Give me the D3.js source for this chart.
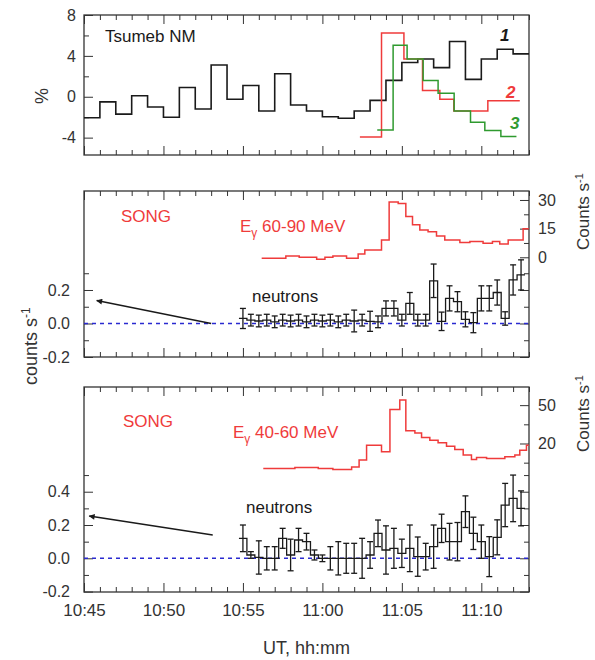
<!DOCTYPE html>
<html>
<head>
<meta charset="utf-8">
<script src="https://cdn.jsdelivr.net/npm/d3@7"></script>
<style>
  body { margin: 0; background: #fff; }
  svg { font-family: Arial, "Liberation Sans", sans-serif; }
</style>
</head>
<body>
<svg id="chart" width="595" height="660"></svg>
<script>
// ---- data (times are minutes after 10:45 UT) ----
const xTickLabels = ["10:45", "10:50", "10:55", "11:00", "11:05", "11:10"];
const xStart = "10:45", xEnd = "11:13";

// Tsumeb NM, 1-min bins from 10:45 (%)
const nmBlack = [-2.05, -0.5, -1.7, 0.1, -1.0, -2.0, 0.9, -1.2, 3.1, -0.25, 1.1, -1.4, 2.25, -0.8,
  -1.4, -1.95, -2.1, -1.4, -0.35, 1.6, 3.35, 3.7, 2.85, 5.4, 1.7, 3.7, 4.65, 4.2];
const nmRedEdges = [17.36, 18.72, 20.13, 21.3, 22.39, 23.27, 25.41, 27.42];
const nmRed = [-3.95, 6.25, 3.7, 0.6, -0.25, -1.4, -0.4];
const nmGreenEdges = [18.45, 19.45, 20.33, 21.34, 22.28, 23.29, 24.32, 25.22, 26.23, 27.21];
const nmGreen = [-3.25, 5.05, 3.7, 1.6, 0.35, -1.4, -2.5, -3.3, -3.9];

// SONG gamma, counts/s
const g6090Edges = [11.18, 12.7, 13.54, 14.64, 15.16, 15.66, 16.52, 17.25, 17.67, 18.72, 19.2, 19.77, 20.25,
  20.67, 21.13, 21.65, 22.18, 22.7, 23.65, 24.28, 25.11, 25.7, 26.16, 26.69, 27.63, 27.99];
const g6090 = [-0.5, 0.7, 0, -1, 0, 0.7, -0.5, 1.7, 3.8, 9, 29, 28.2, 21.3, 17, 14.3, 13.4, 11.2, 9,
  7.7, 8.2, 7.3, 8.2, 7, 9, 15];
const g4060Edges = [11.28, 13.27, 14.74, 15.66, 16.84, 17.31, 17.78, 18.72, 19.25, 19.87, 20.25, 20.82, 21.24,
  21.76, 22.28, 22.81, 23.33, 23.86, 24.38, 24.7, 25.33, 26.48, 27.11, 27.42, 27.84, 27.99];
const g4060 = [0.5, 1.2, 0.5, -0.3, 1.7, 7, 18.7, 13.5, 46.6, 54, 30, 28.3, 24.7, 22.6, 20.5, 17.9, 15.3,
  10.9, 7.5, 9.1, 8.3, 9.6, 10.9, 14.8, 18.7];

// SONG neutrons, 30-s bins centred from 10:55 (counts/s)
const nStart = 10, nStep = 0.5;
const nMid = [0.03, 0.02, 0.015, 0.02, 0.01, 0.02, 0.015, 0.02, 0.01, 0.02, 0.015, 0.02, 0.01, 0.02,
  0.015, 0.02, 0.013, 0.01, 0.09, 0.09, 0.02, 0.12, 0.02, 0.02, 0.255, 0.013, 0.15, 0.13, 0.025, 0.005,
  0.15, 0.15, 0.185, 0.03, 0.26, 0.29];
const nMidErr = [0.06, 0.035, 0.035, 0.035, 0.035, 0.035, 0.035, 0.035, 0.035, 0.035, 0.035, 0.035, 0.035, 0.035,
  0.065, 0.035, 0.06, 0.035, 0.045, 0.045, 0.035, 0.065, 0.035, 0.035, 0.1, 0.055, 0.075, 0.06, 0.045, 0.06,
  0.075, 0.075, 0.075, 0.04, 0.09, 0.09];
const nBot = [0.12, 0.02, 0.005, 0.0, 0.0, 0.12, 0.02, 0.11, 0.1, 0.02, 0.0, 0.0, 0.0, 0.0, 0.0, 0.0,
  0.02, 0.15, 0.05, 0.06, 0.03, 0.06, 0.01, 0.01, 0.07, 0.18, 0.1, 0.1, 0.28, 0.15, 0.1, 0.01, 0.126,
  0.32, 0.36, 0.3];
const nBotErr = [0.08, 0.02, 0.1, 0.07, 0.07, 0.06, 0.095, 0.07, 0.05, 0.03, 0.02, 0.07, 0.1, 0.09, 0.09, 0.12,
  0.08, 0.08, 0.145, 0.12, 0.085, 0.14, 0.118, 0.08, 0.13, 0.085, 0.11, 0.115, 0.095, 0.097, 0.1, 0.12, 0.105,
  0.13, 0.14, 0.105];

// ---- layout ----
const svg = d3.select("#chart");
const L = 84, R = 529;
const parseHM = d3.timeParse("%H:%M");
const t0 = parseHM(xStart);
const at = m => new Date(+t0 + m * 60000);
const x = d3.scaleTime().domain([t0, parseHM(xEnd)]).range([L, R]);
const majorT = xTickLabels.map(parseHM);
const minorT = d3.range(0, 29).map(at).filter(d => !majorT.some(m => +m === +d));

const RED = "#ef3b3b", GREEN = "#2f9a2f", INK = "#1a1a1a", TXT = "#333";

// step points from bin edges
function steps(edges, vals) {
  const pts = [];
  vals.forEach((v, i) => { pts.push([edges[i], v], [edges[i + 1], v]); });
  return pts;
}

function frame(y0, y1) {
  svg.append("rect").attr("x", L).attr("y", y0).attr("width", R - L).attr("height", y1 - y0)
    .attr("fill", "none").attr("stroke", "#333").attr("stroke-width", 1.3);
}

function xTicks(y0, y1, labels) {
  const mk = (axisFn, vals, size, ty, lab) => {
    const g = svg.append("g").attr("transform", `translate(0,${ty})`)
      .call(axisFn(x).tickValues(vals).tickSize(-size).tickPadding(12)
        .tickFormat(lab ? d3.timeFormat("%H:%M") : ""));
    g.select(".domain").remove();
    g.selectAll("line").attr("stroke", "#333");
    g.selectAll("text").attr("font-size", 17).attr("fill", TXT);
  };
  mk(d3.axisBottom, majorT, 9, y1, labels);
  mk(d3.axisBottom, minorT, 5, y1, false);
  mk(d3.axisTop, majorT, 9, y0, false);
  mk(d3.axisTop, minorT, 5, y0, false);
}

function yTicks(axisFn, scale, tx, major, minor, fmt, pad) {
  const g1 = svg.append("g").attr("transform", `translate(${tx},0)`)
    .call(axisFn(scale).tickValues(major).tickSize(-9).tickPadding(pad).tickFormat(fmt || ""));
  const g2 = svg.append("g").attr("transform", `translate(${tx},0)`)
    .call(axisFn(scale).tickValues(minor).tickSize(-5).tickFormat(""));
  [g1, g2].forEach(g => {
    g.select(".domain").remove();
    g.selectAll("line").attr("stroke", "#333");
    g.selectAll("text").attr("font-size", 16).attr("fill", TXT);
  });
}

// ---- top panel: Tsumeb NM ----
const yNM = d3.scaleLinear().domain([-5.7, 8]).range([155, 15]);
const lineNM = d3.line().x(d => x(at(d[0]))).y(d => yNM(d[1]));
frame(15, 155);
xTicks(15, 155, false);
yTicks(d3.axisLeft, yNM, L, [-4, 0, 4, 8], [-2, 2, 6], d => String(d), 8);

svg.append("path").attr("d", lineNM(steps(d3.range(29), nmBlack)))
  .attr("fill", "none").attr("stroke", INK).attr("stroke-width", 1.6);
svg.append("path").attr("d", lineNM(steps(nmRedEdges, nmRed)))
  .attr("fill", "none").attr("stroke", RED).attr("stroke-width", 1.5);
svg.append("path").attr("d", lineNM(steps(nmGreenEdges, nmGreen)))
  .attr("fill", "none").attr("stroke", GREEN).attr("stroke-width", 1.5);

svg.append("text").attr("x", 105).attr("y", 42).attr("font-size", 17).attr("fill", INK).text("Tsumeb NM");
[["1", INK, 500, 41], ["2", RED, 506, 98], ["3", GREEN, 510, 129]].forEach(([t, c, tx, ty]) => {
  svg.append("text").attr("x", tx).attr("y", ty).attr("font-size", 17).attr("font-weight", "bold")
    .attr("font-style", "italic").attr("fill", c).text(t);
});
svg.append("text").attr("transform", "translate(48,96) rotate(-90)").attr("text-anchor", "middle")
  .attr("font-size", 18).attr("fill", TXT).text("%");

// ---- SONG panels ----
function songPanel(cfg) {
  const { y0, y1, dl, dr, gEdges, gVals, nVals, nErr, lMajor, lMinor, rMajor, rMinor, band, lab } = cfg;
  const yL = d3.scaleLinear().domain(dl).range([y1, y0]);
  const yR = d3.scaleLinear().domain(dr).range([y1, y0]);
  frame(y0, y1);
  xTicks(y0, y1, lab);
  yTicks(d3.axisLeft, yL, L, lMajor, lMinor, d => d.toFixed(1), 14);
  yTicks(d3.axisRight, yL, R, lMajor, lMinor, null, 9);
  yTicks(d3.axisRight, yR, R, rMajor, rMinor, d => String(d), 9);

  // zero line
  svg.append("line").attr("x1", L).attr("x2", R).attr("y1", yL(0)).attr("y2", yL(0))
    .attr("stroke", "#2a2ad0").attr("stroke-width", 1.5).attr("stroke-dasharray", "4,4");

  // gamma counts
  const lineG = d3.line().x(d => x(at(d[0]))).y(d => yR(d[1]));
  svg.append("path").attr("d", lineG(steps(gEdges, gVals)))
    .attr("fill", "none").attr("stroke", RED).attr("stroke-width", 1.5);

  // neutrons
  const centers = nVals.map((v, i) => nStart + i * nStep);
  const edges = centers.map(c => c - nStep / 2).concat([centers[centers.length - 1] + nStep / 2]);
  const lineN = d3.line().x(d => x(at(d[0]))).y(d => yL(d[1]));
  svg.append("path").attr("d", lineN(steps(edges, nVals)))
    .attr("fill", "none").attr("stroke", INK).attr("stroke-width", 1.3);
  const eb = svg.append("g").attr("stroke", INK).attr("stroke-width", 1.3);
  centers.forEach((c, i) => {
    const cx = x(at(c)), lo = yL(nVals[i] - nErr[i]), hi = yL(nVals[i] + nErr[i]);
    eb.append("line").attr("x1", cx).attr("x2", cx).attr("y1", lo).attr("y2", hi);
    eb.append("line").attr("x1", cx - 3).attr("x2", cx + 3).attr("y1", lo).attr("y2", lo);
    eb.append("line").attr("x1", cx - 3).attr("x2", cx + 3).attr("y1", hi).attr("y2", hi);
  });

  // arrow
  const a = cfg.arrow;
  svg.append("line").attr("x1", x(at(a[0][0]))).attr("y1", yL(a[0][1]))
    .attr("x2", x(at(a[1][0]))).attr("y2", yL(a[1][1]))
    .attr("stroke", INK).attr("stroke-width", 1.4).attr("marker-end", "url(#arr)");

  // labels
  svg.append("text").attr("x", cfg.song[0]).attr("y", cfg.song[1]).attr("font-size", 17)
    .attr("fill", RED).text("SONG");
  const e = svg.append("text").attr("x", cfg.eg[0]).attr("y", cfg.eg[1]).attr("font-size", 17).attr("fill", RED);
  e.append("tspan").text("E");
  e.append("tspan").attr("dy", 5).attr("font-size", 12).text("γ");
  e.append("tspan").attr("dy", -5).text(" " + band);
  svg.append("text").attr("x", cfg.neu[0]).attr("y", cfg.neu[1]).attr("font-size", 17)
    .attr("fill", INK).text("neutrons");

  const c = svg.append("text").attr("transform", `translate(589,${cfg.rlab}) rotate(-90)`)
    .attr("font-size", 17).attr("fill", TXT);
  c.append("tspan").text("Counts s");
  c.append("tspan").attr("dy", -6).attr("font-size", 11).text("-1");
}

svg.append("defs").append("marker").attr("id", "arr").attr("viewBox", "0 0 10 10")
  .attr("refX", 9).attr("refY", 5).attr("markerWidth", 7).attr("markerHeight", 6)
  .attr("orient", "auto").attr("markerUnits", "userSpaceOnUse")
  .append("path").attr("d", "M0,0 L10,5 L0,10 z").attr("fill", INK);

songPanel({
  y0: 191, y1: 357, dl: [-0.2, 0.791], dr: [-52.2, 34.7],
  gEdges: g6090Edges, gVals: g6090, nVals: nMid, nErr: nMidErr,
  lMajor: [-0.2, 0, 0.2], lMinor: [-0.1, 0.1, 0.3], rMajor: [0, 15, 30], rMinor: [7.5, 22.5],
  band: "60-90 MeV", lab: false,
  arrow: [[8.0, 0.0], [0.8, 0.137]],
  song: [121, 222], eg: [240, 232], neu: [252, 302], rlab: 250
});
songPanel({
  y0: 387, y1: 592, dl: [-0.2024, 1.029], dr: [-96.2, 64.2],
  gEdges: g4060Edges, gVals: g4060, nVals: nBot, nErr: nBotErr,
  lMajor: [-0.2, 0, 0.2, 0.4], lMinor: [-0.1, 0.1, 0.3, 0.5], rMajor: [20, 50], rMinor: [5, 35],
  band: "40-60 MeV", lab: true,
  arrow: [[8.1, 0.14], [0.33, 0.254]],
  song: [123, 427], eg: [233, 438], neu: [246, 513], rlab: 452
});

// left axis title for the SONG panels
const cl = svg.append("text").attr("transform", "translate(37,385) rotate(-90)")
  .attr("font-size", 18).attr("fill", TXT);
cl.append("tspan").text("counts s");
cl.append("tspan").attr("dy", -7).attr("font-size", 12).text("-1");

svg.append("text").attr("x", (L + R) / 2).attr("y", 654).attr("text-anchor", "middle")
  .attr("font-size", 18).attr("fill", TXT).text("UT, hh:mm");
</script>
</body>
</html>
